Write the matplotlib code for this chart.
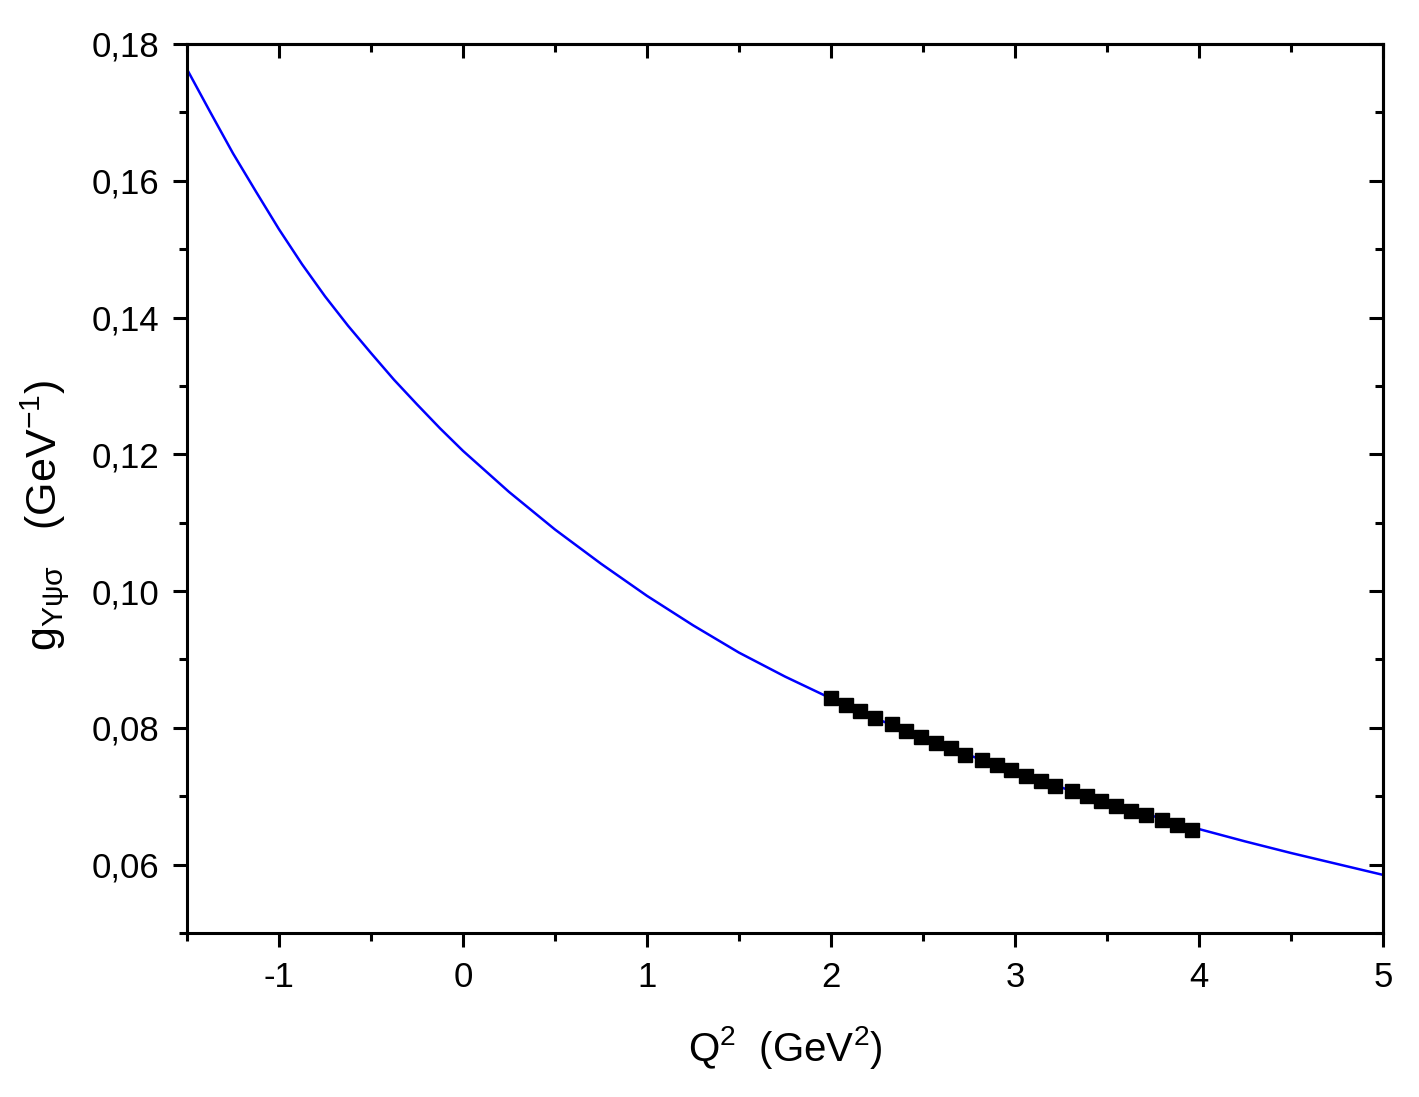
import numpy as np
import matplotlib
matplotlib.use("Agg")
import matplotlib.pyplot as plt
from matplotlib.ticker import MultipleLocator, FuncFormatter

plt.rcParams["font.family"] = ["Liberation Sans", "DejaVu Sans"]
plt.rcParams["mathtext.fontset"] = "custom"
plt.rcParams["mathtext.rm"] = "Liberation Sans"
plt.rcParams["mathtext.it"] = "Liberation Sans:italic"
plt.rcParams["axes.unicode_minus"] = False

# ---------- data ----------
# continuous curve g(Q^2)
q2_curve = [-1.500, -1.375, -1.250, -1.125, -1.000, -0.875, -0.750, -0.625,
            -0.500, -0.375, -0.250, -0.125, 0.00, 0.25, 0.50, 0.75,
            1.00, 1.25, 1.50, 1.75, 2.00, 2.25, 2.50, 2.75,
            3.00, 3.25, 3.50, 3.75, 4.00, 4.25, 4.50, 4.75, 5.00]
g_curve = [0.1763, 0.1701, 0.1640, 0.1584, 0.1529, 0.1478, 0.1431, 0.1388,
           0.1348, 0.1309, 0.1273, 0.1238, 0.1205, 0.1145, 0.1090, 0.1040,
           0.0993, 0.0950, 0.0910, 0.0875, 0.0843, 0.0813, 0.0786, 0.0760,
           0.0736, 0.0713, 0.0691, 0.0671, 0.0652, 0.0634, 0.0617, 0.0601, 0.0585]

# sum-rule points (squares)
q2_pts = [2.00, 2.08, 2.16, 2.24, 2.33, 2.41, 2.49, 2.57, 2.65, 2.73,
          2.82, 2.90, 2.98, 3.06, 3.14, 3.22, 3.31, 3.39, 3.47, 3.55,
          3.63, 3.71, 3.80, 3.88, 3.96]
g_pts = [0.0843, 0.0834, 0.0824, 0.0814, 0.0805, 0.0796, 0.0786, 0.0778, 0.0770, 0.0761,
         0.0753, 0.0745, 0.0738, 0.0730, 0.0722, 0.0715, 0.0707, 0.0701, 0.0693, 0.0686,
         0.0679, 0.0672, 0.0665, 0.0658, 0.0651]

# ---------- plot ----------
fig = plt.figure(figsize=(14.19, 10.97), dpi=100)
ax = fig.add_axes([0.1318, 0.1495, 0.8428, 0.8104])

ax.plot(q2_curve, g_curve, color="#0000ff", lw=1.8, zorder=2)
ax.plot(q2_pts, g_pts, "s", color="black", ms=9.5, zorder=3)

ax.set_xlim(-1.5, 5)
ax.set_ylim(0.05, 0.18)
ax.xaxis.set_major_locator(MultipleLocator(1))
ax.xaxis.set_minor_locator(MultipleLocator(0.5))
ax.yaxis.set_major_locator(MultipleLocator(0.02))
ax.yaxis.set_minor_locator(MultipleLocator(0.01))
ax.xaxis.set_major_formatter(FuncFormatter(lambda v, p: f"{v:.0f}"))
ax.yaxis.set_major_formatter(
    FuncFormatter(lambda v, p: "" if abs(v - 0.05) < 1e-6 else f"{v:.2f}".replace(".", ",")))

for s in ax.spines.values():
    s.set_linewidth(2.2)
ax.tick_params(which="both", width=2.2, labelsize=25, top=False, right=False)
ax.tick_params(which="major", length=10, pad=10)
ax.tick_params(which="minor", length=6)

# inward ticks on top/right without labels
axt = ax.secondary_xaxis("top")
axt.xaxis.set_major_locator(MultipleLocator(1))
axt.xaxis.set_minor_locator(MultipleLocator(0.5))
axt.tick_params(which="both", direction="in", width=2.2, labeltop=False)
axt.tick_params(which="major", length=10)
axt.tick_params(which="minor", length=6)
axt.spines["top"].set_linewidth(2.2)
axr = ax.secondary_yaxis("right")
axr.yaxis.set_major_locator(MultipleLocator(0.02))
axr.yaxis.set_minor_locator(MultipleLocator(0.01))
axr.tick_params(which="both", direction="in", width=2.2, labelright=False)
axr.tick_params(which="major", length=10)
axr.tick_params(which="minor", length=6)
axr.spines["right"].set_linewidth(2.2)

ax.set_xlabel(r"Q$^{2}$  (GeV$^{2}$)", fontsize=29, labelpad=22)
ax.set_ylabel(r"$\mathrm{g}_{\mathrm{Υψσ}}$   (GeV$^{\mathrm{-1}}$)", fontsize=31)
ax.yaxis.set_label_coords(-0.097, 0.47)

fig.savefig("out.png", dpi=100)
